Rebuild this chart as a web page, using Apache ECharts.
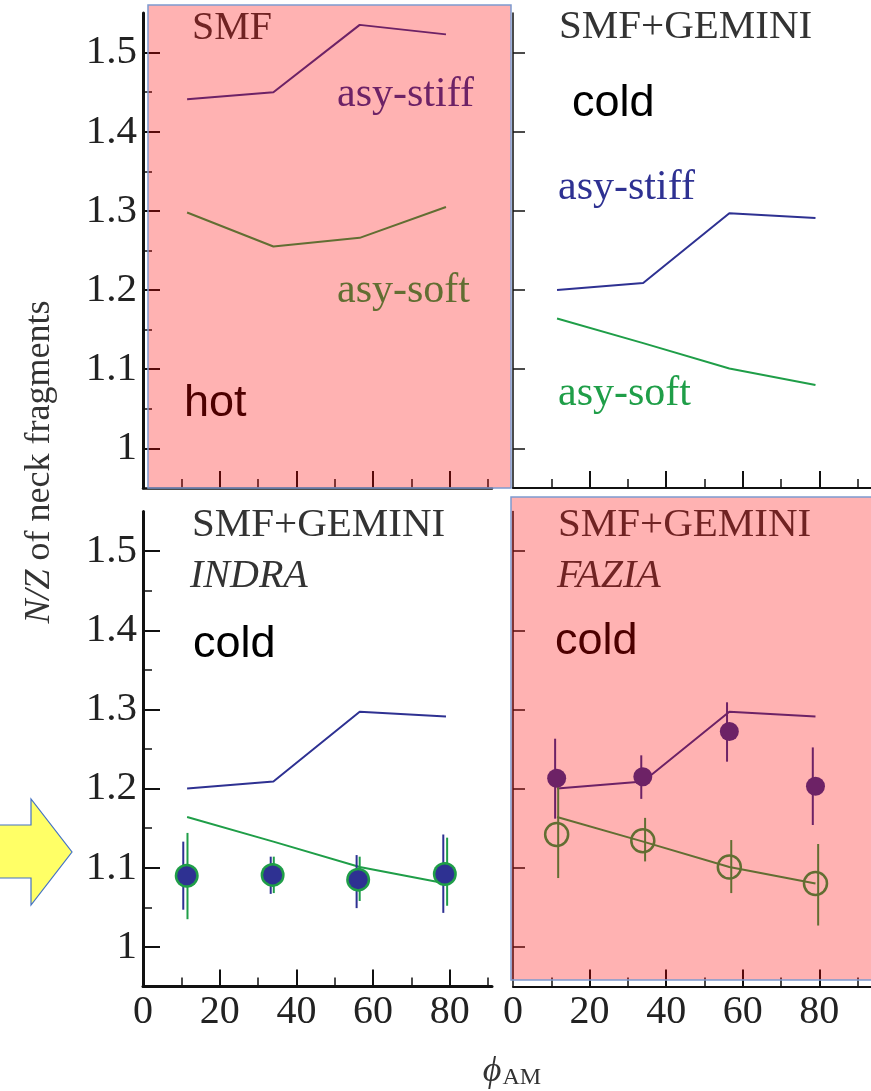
<!DOCTYPE html>
<html>
<head>
<meta charset="utf-8">
<script src="https://cdn.jsdelivr.net/npm/echarts@6/dist/echarts.min.js"></script>
<style>
  html, body { margin: 0; padding: 0; background: #fff; }
  #chart { width: 871px; height: 1091px; }
</style>
</head>
<body>
<div id="chart"></div>
<script>
// phi_AM bins used by the model curves
var phiBins = [11.5, 34, 56.5, 79];
// SMF (hot) curves
var smfStiff = [1.441, 1.45, 1.535, 1.523];
var smfSoft = [1.298, 1.255, 1.266, 1.305];
// SMF+GEMINI (cold) curves
var gemStiff = [1.2, 1.209, 1.297, 1.291];
var gemSoft = [1.164, 1.133, 1.101, 1.080];

// INDRA filtered points (blue = stiff, green = soft)
var indraX = [11.4, 33.8, 56.1, 78.7];
var indraNZ = [1.090, 1.091, 1.085, 1.092];
var indraBlueBarX = [10.5, 33.3, 55.7, 78.3];
var indraBlueLo = [1.047, 1.067, 1.049, 1.043];
var indraBlueHi = [1.133, 1.114, 1.116, 1.142];
var indraGreenBarX = [11.6, 34.1, 56.5, 79.3];
var indraGreenLo = [1.035, 1.068, 1.058, 1.052];
var indraGreenHi = [1.144, 1.114, 1.114, 1.138];

// FAZIA filtered points
var faziaX = [11.4, 33.9, 56.5, 79];
var faziaStiffNZ = [1.213, 1.215, 1.272, 1.203];
var faziaStiffBarX = [11.0, 33.5, 55.9, 78.3];
var faziaStiffLo = [1.162, 1.187, 1.234, 1.154];
var faziaStiffHi = [1.263, 1.242, 1.309, 1.252];
var faziaSoftNZ = [1.142, 1.134, 1.101, 1.080];
var faziaSoftBarX = [11.8, 34.5, 57.0, 79.7];
var faziaSoftLo = [1.087, 1.108, 1.068, 1.027];
var faziaSoftHi = [1.207, 1.163, 1.135, 1.130];

// ticks
var xMajor = [20, 40, 60, 80];
var xMinor = [10, 30, 50, 70, 90];
var xLabels = [0, 20, 40, 60, 80];
var yMajor = [1, 1.1, 1.2, 1.3, 1.4, 1.5];
var yMinor = [1.05, 1.15, 1.25, 1.35, 1.45];

var BLUE = '#2E3192';
var GREEN = '#1F9E48';
var SERIF = 'Liberation Serif';
var SANS = 'Liberation Sans';

var chart = echarts.init(document.getElementById('chart'));

var grids = [
  { left: 143, top: 13, width: 349, height: 475 },
  { left: 513, top: 13, width: 358, height: 475 },
  { left: 143, top: 511.5, width: 349, height: 475 },
  { left: 513, top: 511.5, width: 358, height: 475 }
];
var xMax = [91, 93.5, 91, 93.5];
var axisW = [[2.5, 3], [2, 1.5], [3, 3], [2, 1.5]]; // [x, y] line widths

var xAxes = [], yAxes = [];
grids.forEach(function (g, i) {
  var bottom = i >= 2, left = i % 2 === 0;
  xAxes.push({
    gridIndex: i, type: 'value', position: 'bottom', min: 0, max: xMax[i],
    axisLine: { lineStyle: { color: '#111', width: axisW[i][0] } },
    axisTick: { inside: true, length: 17, customValues: xMajor, lineStyle: { color: '#111', width: 2 } },
    axisLabel: { show: bottom, customValues: xLabels, fontFamily: SERIF, fontSize: 40, color: '#222', margin: 6 },
    splitLine: { show: false }
  });
  xAxes.push({
    gridIndex: i, type: 'value', position: 'bottom', min: 0, max: xMax[i],
    axisLine: { show: false },
    axisTick: { inside: true, length: 9, customValues: xMinor, lineStyle: { color: '#111', width: 1.5 } },
    axisLabel: { show: false },
    splitLine: { show: false }
  });
  yAxes.push({
    gridIndex: i, type: 'value', position: 'left', min: 0.95, max: 1.55,
    axisLine: { lineStyle: { color: '#111', width: axisW[i][1] } },
    axisTick: { inside: true, length: left ? 17 : 12, customValues: yMajor, lineStyle: { color: '#111', width: left ? 2 : 1.5 } },
    axisLabel: {
      show: left, customValues: yMajor, fontFamily: SERIF, fontSize: 41, color: '#222', margin: 6,
      formatter: function (v) { return String(Math.round(v * 10) / 10); }
    },
    splitLine: { show: false }
  });
  yAxes.push({
    gridIndex: i, type: 'value', position: 'left', min: 0.95, max: 1.55,
    axisLine: { show: false },
    axisTick: { show: left, inside: true, length: 9, customValues: yMinor, lineStyle: { color: '#111', width: 1.5 } },
    axisLabel: { show: false },
    splitLine: { show: false }
  });
});

function pairs(xs, ys) {
  return xs.map(function (x, k) { return [x, ys[k]]; });
}

function curve(i, ys, color) {
  return {
    type: 'line', xAxisIndex: 2 * i, yAxisIndex: 2 * i, data: pairs(phiBins, ys),
    showSymbol: false, lineStyle: { color: color, width: 2 }, z: 2, silent: true
  };
}

function errBars(i, xs, lo, hi, color) {
  return {
    type: 'custom', xAxisIndex: 2 * i, yAxisIndex: 2 * i, z: 3, silent: true,
    data: xs.map(function (x, k) { return [x, lo[k], hi[k]]; }),
    encode: { x: 0, y: [1, 2] },
    renderItem: function (params, api) {
      var a = api.coord([api.value(0), api.value(1)]);
      var b = api.coord([api.value(0), api.value(2)]);
      return { type: 'line', shape: { x1: a[0], y1: a[1], x2: b[0], y2: b[1] },
               style: { stroke: color, lineWidth: 2 } };
    }
  };
}

function dots(i, xs, ys, size, style, z) {
  return {
    type: 'scatter', xAxisIndex: 2 * i, yAxisIndex: 2 * i, data: pairs(xs, ys),
    symbol: 'circle', symbolSize: size, itemStyle: style, z: z, silent: true
  };
}

var series = [
  curve(0, smfStiff, BLUE), curve(0, smfSoft, GREEN),
  curve(1, gemStiff, BLUE), curve(1, gemSoft, GREEN),
  curve(2, gemStiff, BLUE), curve(2, gemSoft, GREEN),
  curve(3, gemStiff, BLUE), curve(3, gemSoft, GREEN),
  errBars(2, indraBlueBarX, indraBlueLo, indraBlueHi, BLUE),
  errBars(2, indraGreenBarX, indraGreenLo, indraGreenHi, GREEN),
  dots(2, indraX, indraNZ, 24, { color: GREEN, opacity: 1 }, 4),
  dots(2, indraX, indraNZ, 19, { color: BLUE, opacity: 1 }, 5),
  errBars(3, faziaStiffBarX, faziaStiffLo, faziaStiffHi, BLUE),
  errBars(3, faziaSoftBarX, faziaSoftLo, faziaSoftHi, GREEN),
  dots(3, faziaX, faziaStiffNZ, 19, { color: BLUE, opacity: 1 }, 5),
  dots(3, faziaX, faziaSoftNZ, 23, { color: 'rgba(0,0,0,0)', borderColor: GREEN, borderWidth: 2.5, opacity: 1 }, 5)
];

// baseline is the text baseline in pixels; top of the text box sits ~0.8em above it
function label(text, x, baseline, font, color, size, italic) {
  return {
    type: 'text', x: x, y: baseline - 0.8 * size, z: 50, silent: true,
    style: { text: text, fill: color, fontFamily: font, fontSize: size,
             fontStyle: italic ? 'italic' : 'normal', verticalAlign: 'top' }
  };
}

var overlay = 'rgba(255,0,0,0.3)';
var graphics = [
  label('SMF', 192, 40, SERIF, '#333', 40),
  label('asy-stiff', 337, 108, SERIF, BLUE, 42),
  label('asy-soft', 337, 304, SERIF, GREEN, 42),
  label('hot', 184, 417, SANS, '#000', 45),
  label('SMF+GEMINI', 559, 40, SERIF, '#333', 41),
  label('cold', 572, 117, SANS, '#000', 45),
  label('asy-stiff', 558, 201, SERIF, BLUE, 42),
  label('asy-soft', 558, 407, SERIF, GREEN, 42),
  label('SMF+GEMINI', 192, 538, SERIF, '#333', 41),
  label('INDRA', 190, 588, SERIF, '#333', 40, true),
  label('cold', 193, 658, SANS, '#000', 45),
  label('SMF+GEMINI', 558, 538, SERIF, '#333', 41),
  label('FAZIA', 557, 588, SERIF, '#333', 40, true),
  label('cold', 555, 655, SANS, '#000', 45),
  {
    type: 'text', x: 40, y: 462, rotation: Math.PI / 2, z: 50, silent: true,
    style: {
      text: '{i|N/Z} of neck fragments', fill: '#333', fontFamily: SERIF, fontSize: 36,
      align: 'center', verticalAlign: 'middle',
      rich: { i: { fontStyle: 'italic', fontFamily: SERIF, fontSize: 36, fill: '#333' } }
    }
  },
  {
    type: 'text', x: 512, y: 1072, z: 50, silent: true,
    style: {
      text: '{p|\u03d5}{s|AM}', fill: '#333', align: 'center', verticalAlign: 'middle',
      rich: {
        p: { fontStyle: 'italic', fontFamily: SERIF, fontSize: 36, fill: '#333', verticalAlign: 'bottom' },
        s: { fontFamily: SERIF, fontSize: 24, fill: '#333', verticalAlign: 'bottom', padding: [0, 0, 0, 1] }
      }
    }
  },
  {
    type: 'polygon', z: 60, silent: true,
    shape: { points: [[-5, 825], [31, 825], [31, 799], [72, 852], [31, 905], [31, 878], [-5, 878]] },
    style: { fill: '#FFFF66', stroke: '#4472C4', lineWidth: 1.2 }
  },
  {
    type: 'rect', z: 100, silent: true,
    shape: { x: 148, y: 5, width: 363, height: 483 },
    style: { fill: overlay, stroke: '#7E9ACF', lineWidth: 1.5 }
  },
  {
    type: 'rect', z: 100, silent: true,
    shape: { x: 511, y: 497, width: 372, height: 483 },
    style: { fill: overlay, stroke: '#7E9ACF', lineWidth: 1.5 }
  }
];

var option = {
  animation: false,
  backgroundColor: '#fff',
  grid: grids,
  xAxis: xAxes,
  yAxis: yAxes,
  series: series,
  graphic: { elements: graphics }
};

if (option && typeof option === "object") {
  chart.setOption(option, true);
}
</script>
</body>
</html>
